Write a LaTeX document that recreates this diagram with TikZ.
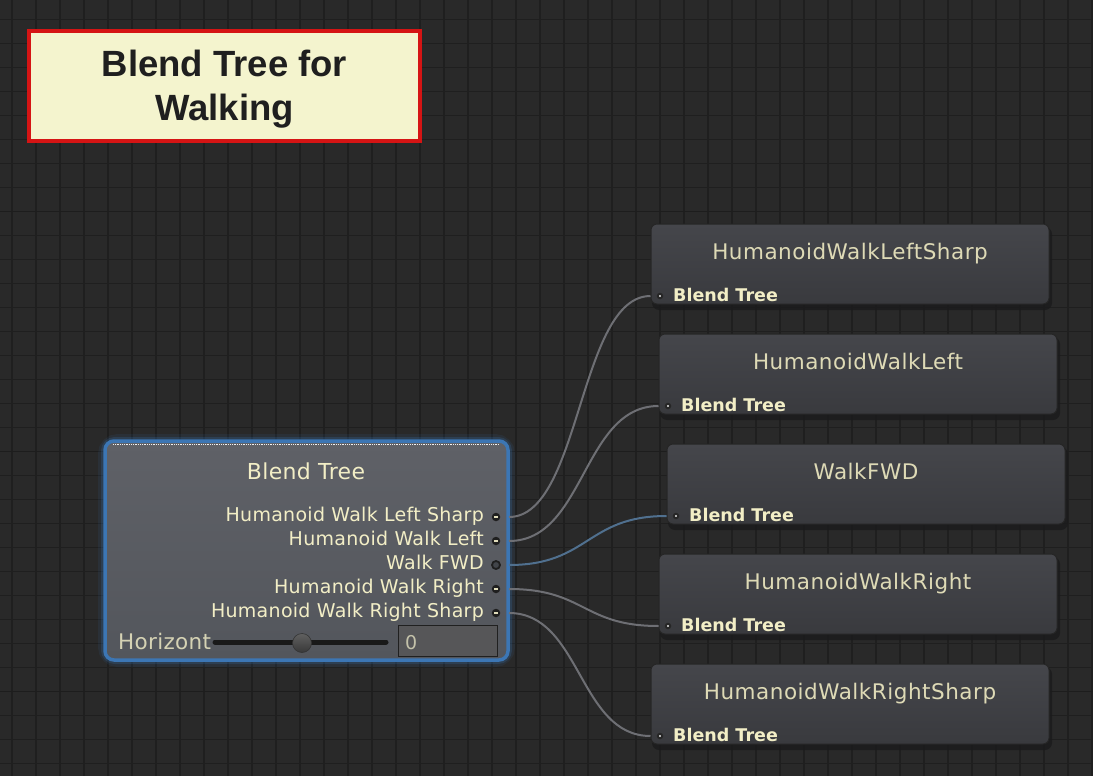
\documentclass[tikz,border=0pt]{standalone}
\usepackage{fontspec}
\setmainfont{DejaVu Sans}
\newfontfamily\titlefont{Liberation Sans}
\newfontfamily\lblfont[LetterSpace=1.5]{DejaVu Sans}
\newfontfamily\rtfont[LetterSpace=2.4]{DejaVu Sans}
\usetikzlibrary{calc}
\definecolor{bgc}{HTML}{292929}
\definecolor{gridc}{HTML}{1F1F1F}
\definecolor{gridm}{HTML}{1D1D1D}
\definecolor{cream}{HTML}{F2EEC6}
\definecolor{creamdim}{HTML}{DEDAB6}
\definecolor{wirec}{HTML}{6E6F74}
\definecolor{wireblue}{HTML}{50708F}
\definecolor{selblue}{HTML}{3C76B4}
\definecolor{notered}{HTML}{D51414}
\definecolor{notefill}{HTML}{F4F4CE}
\definecolor{shadowc}{HTML}{1B1B1C}
\definecolor{nodetop}{HTML}{45464B}
\definecolor{nodebot}{HTML}{393A3E}
\definecolor{maintop}{HTML}{5F6167}
\definecolor{mainbot}{HTML}{53565C}
\begin{document}
\begin{tikzpicture}[x=1pt,y=-1pt,
  notebox/.style={draw=notered, line width=4pt, fill=notefill, minimum width=391pt, minimum height=110pt, inner sep=0pt},
  notetext/.style={align=center, text=black!88, font=\titlefont\bfseries\fontsize{36.5}{44}\selectfont, inner sep=0pt},
  mainbody/.style={draw=selblue, line width=3.5pt, rounded corners=9pt, top color=maintop, bottom color=mainbot,
    minimum width=403pt, minimum height=219pt, inner sep=0pt},
  lbl/.style={anchor=base east, inner sep=0pt, text=cream, font=\lblfont\fontsize{19}{22}\selectfont},
  outport/.style={circle, fill=black!88, minimum size=8.5pt, inner sep=0pt},
  rnode/.style={rounded corners=6pt, draw=gray!30!black, line width=1pt, top color=nodetop, bottom color=nodebot,
    minimum width=398pt, minimum height=80pt, inner sep=0pt},
  rtitle/.style={anchor=base, inner sep=0pt, text=creamdim, font=\rtfont\fontsize{21.5}{24}\selectfont},
  rsub/.style={anchor=base west, inner sep=0pt, text=cream, font=\bfseries\fontsize{17.5}{20}\selectfont},
  iport/.style={circle, fill=black!85, minimum size=6.5pt, inner sep=0pt},
  wire/.style={wirec, line width=2pt}
]
\useasboundingbox (0,0) rectangle (1093,776);
\fill[bgc] (0,0) rectangle (1093,776);
% grid
\foreach \i in {0,...,45} \draw[gridc, line width=1.6pt] ({12+24*\i},0) -- ({12+24*\i},776);
\foreach \j in {0,...,32} \draw[gridc, line width=1.6pt] (0,{19.5+24*\j}) -- (1093,{19.5+24*\j});
\foreach \yy in {211.5,451.5,691.5} \draw[gridm, line width=1.9pt] (0,\yy) -- (1093,\yy);

% note
\node[notebox] (note) at (224.5,86) {};
\node[notetext] (notet) at (224.5,89) {Blend Tree for\\Walking};

% main blend tree node with glow
\draw[selblue, opacity=0.10, line width=14pt, rounded corners=13pt] (105,441) rectangle (508,660);
\draw[selblue, opacity=0.22, line width=8pt, rounded corners=10pt] (105,441) rectangle (508,660);
\node[mainbody] (bt) at (306.5,550.5) {};
\draw[white!90!gray, densely dotted, line width=0.8pt] (113,444.5) -- (499,444.5);
\node[anchor=base, inner sep=0pt, text=cream, font=\lblfont\fontsize{22}{26}\selectfont] (btt) at (306,479) {Blend Tree};

\node[lbl] (l1) at (484,521) {Humanoid Walk Left Sharp};
\node[lbl] (l2) at (484,545) {Humanoid Walk Left};
\node[lbl] (l3) at (484,569) {Walk FWD};
\node[lbl] (l4) at (484,593) {Humanoid Walk Right};
\node[lbl] (l5) at (484,617) {Humanoid Walk Right Sharp};

\foreach \k/\yy in {1/517,2/541,4/589,5/613} {
  \node[outport] (p\k) at (496,\yy) {};
  \fill[cream!85!gray] (494.3,{\yy-1.2}) rectangle (497.7,{\yy+1.2});
}
\node[circle, draw=black!88, line width=1.8pt, fill=mainbot!80!black, minimum size=8pt, inner sep=0pt] (p3) at (496,565) {};

% Horizont slider row
\node[anchor=base west, inner sep=0pt, text=cream!75!gray, font=\lblfont\fontsize{21.5}{26}\selectfont] (hz) at (118,649) {Horizont};
\draw[line width=5pt, black!80!gray, line cap=round] (215,642) -- (386,642);
\node[circle, minimum size=19pt, inner sep=0pt, top color=gray!75!black, bottom color=black!55!gray, draw=black!60!gray, line width=0.6pt] (knob) at (302,643) {};
\node[draw=black!75!gray, line width=1.2pt, fill=black!35!gray!75!maintop, minimum width=99pt, minimum height=31pt, inner sep=0pt] (field) at (448,641) {};
\node[anchor=base west, inner sep=0pt, text=cream!60!gray, font=\fontsize{19}{22}\selectfont] (fv) at (405,649) {0};

\coordinate (o1) at (509,517);
\coordinate (o2) at (509,541);
\coordinate (o3) at (509,565);
\coordinate (o4) at (509,589);
\coordinate (o5) at (509,613);

% right nodes
\foreach \nm/\cx/\cy/\ttl in {r1/850/264/HumanoidWalkLeftSharp, r2/858/374/HumanoidWalkLeft, r3/866/484/WalkFWD, r4/858/594/HumanoidWalkRight, r5/850/704/HumanoidWalkRightSharp} {
  \fill[shadowc, opacity=0.8, rounded corners=7pt] ({\cx-198},{\cy-37}) rectangle ({\cx+202},{\cy+46});
  \node[rnode] (\nm) at (\cx,\cy) {};
  \node[rtitle] (\nm t) at (\cx,{\cy-5}) {\ttl};
  \node[rsub] (\nm s) at ({\cx-177},{\cy+37}) {Blend Tree};
  \node[iport] (\nm p) at ({\cx-190},{\cy+32}) {};
  \fill[gray!60] ({\cx-191},{\cy+31}) rectangle ({\cx-189},{\cy+33});
}

% wires
\draw[wire] (o1) .. controls +(72,0) and +(-72,0) .. (r1.west |- r1p);
\draw[wire] (o2) .. controls +(76,0) and +(-76,0) .. (r2.west |- r2p);
\draw[wire, wireblue] (o3) .. controls +(80,0) and +(-80,0) .. (r3.west |- r3p);
\draw[wire] (o4) .. controls +(76,0) and +(-76,0) .. (r4.west |- r4p);
\draw[wire] (o5) .. controls +(72,0) and +(-72,0) .. (r5.west |- r5p);
\end{tikzpicture}
\end{document}
